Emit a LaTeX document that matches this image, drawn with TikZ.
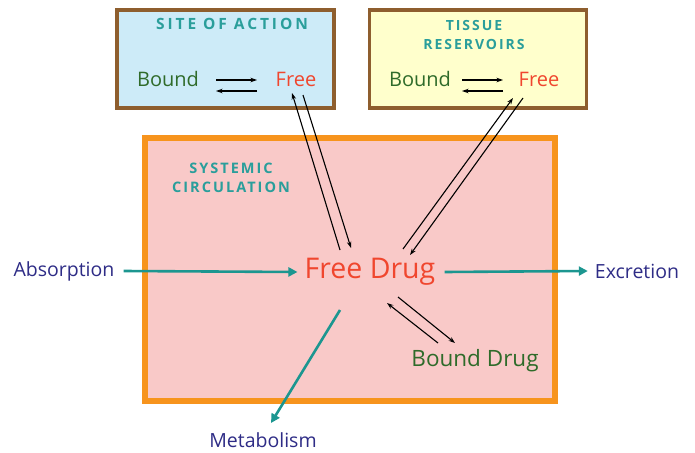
\documentclass[tikz,border=0pt]{standalone}
\usepackage{fontspec}
\setmainfont{Open Sans}
\usetikzlibrary{arrows.meta}
\definecolor{headteal}{HTML}{2A9E9B}
\definecolor{flowteal}{HTML}{1C9690}
\definecolor{boundgreen}{HTML}{2F6B2A}
\definecolor{freered}{HTML}{F0462E}
\definecolor{navy}{HTML}{2E2C86}
\definecolor{frame}{HTML}{8E5E2E}
\definecolor{orangeframe}{HTML}{F7941D}
\definecolor{skyfill}{HTML}{CDEBF8}
\definecolor{creamfill}{HTML}{FFFFCC}
\definecolor{pinkfill}{HTML}{F9C9C8}
\newfontfamily\headfont[LetterSpace=14]{Open Sans}
\newfontfamily\wideheadfont[LetterSpace=19]{Open Sans}
\tikzset{
  panel/.style={draw=frame, line width=3.5pt, minimum width=217pt, minimum height=98pt, inner sep=0pt},
  heading/.style={text=headteal, font=\headfont\bfseries\fontsize{15}{19}\selectfont, align=center, inner sep=0pt},
  word/.style={font=\fontsize{20}{22}\selectfont, inner sep=0pt},
  label/.style={text=navy, font=\fontsize{19.5}{22}\selectfont, inner sep=0pt},
  flow/.style={draw=flowteal, line width=2.6pt, -{Triangle[length=9pt,width=9pt]}},
  thin/.style={draw=black, line width=1.1pt, -{Stealth[length=6.5pt,width=4.5pt]}}
}
\begin{document}
\begin{tikzpicture}[x=1pt,y=-1pt]
\useasboundingbox (0,0) rectangle (695,452);

% compartments
\node[panel, fill=skyfill] (site) at (225.5,59) {};
\node[panel, fill=creamfill] (tissue) at (478,59) {};
\node[draw=orangeframe, fill=pinkfill, line width=6pt, minimum width=410pt, minimum height=263pt, inner sep=0pt] (blood) at (350,269.5) {};

% site of action
\node[heading, font=\wideheadfont\bfseries\fontsize{15.5}{19}\selectfont] (siteh) at (232,24) {SITE OF ACTION};
\node[word, text=boundgreen] (sbound) at (168,79) {Bound};
\node[word, text=freered] (sfree) at (296,79) {Free};
\coordinate (sa) at (216,80);
\coordinate (sb) at (257,80);
\coordinate (sc) at (257,91);
\coordinate (sd) at (216,91);
\draw[thin] (sa) -- (sb);
\draw[thin] (sc) -- (sd);

% tissue reservoirs
\node[heading, font=\headfont\bfseries\fontsize{14}{19}\selectfont] (tissueh) at (474,35) {TISSUE\\RESERVOIRS};
\node[word, text=boundgreen] (tbound) at (420,79) {Bound};
\node[word, text=freered] (tfree) at (539,79) {Free};
\coordinate (ta) at (462,80);
\coordinate (tb) at (503,80);
\coordinate (tc) at (503,91);
\coordinate (td) at (462,91);
\draw[thin] (ta) -- (tb);
\draw[thin] (tc) -- (td);

% systemic circulation
\node[heading, font=\headfont\bfseries\fontsize{14.5}{19}\selectfont] (bloodh) at (231,178) {SYSTEMIC\\CIRCULATION};
\node[text=freered, font=\fontsize{28.5}{30}\selectfont, inner sep=0pt] (fdrug) at (370,272) {Free Drug};
\node[word, text=boundgreen, font=\fontsize{22.5}{24}\selectfont] (bdrug) at (475,361) {Bound Drug};

% exchange with the site of action
\coordinate (s1) at (340,250);
\coordinate (s2) at (292,93);
\coordinate (s3) at (303,95);
\coordinate (s4) at (351,248);
\draw[thin] (s1) -- (s2);
\draw[thin] (s3) -- (s4);

% exchange with tissue reservoirs
\coordinate (t1) at (403,249);
\coordinate (t2) at (513,98);
\coordinate (t3) at (523,98);
\coordinate (t4) at (410,255);
\draw[thin] (t1) -- (t2);
\draw[thin] (t3) -- (t4);

% binding to plasma proteins
\coordinate (b1) at (398,297);
\coordinate (b2) at (455,343);
\coordinate (b3) at (438,343);
\coordinate (b4) at (387,303);
\draw[thin] (b1) -- (b2);
\draw[thin] (b3) -- (b4);

% input and elimination
\node[label] (absorb) at (64,271) {Absorption};
\node[label] (excr) at (637,271) {Excretion};
\node[label] (metab) at (263,440) {Metabolism};
\coordinate (m1) at (340,310);
\coordinate (m2) at (271,423);
\draw[flow] ([xshift=9pt]absorb.east) -- ([xshift=-7pt]fdrug.west);
\draw[flow] ([xshift=9pt]fdrug.east) -- ([xshift=-7pt]excr.west);
\draw[flow] (m1) -- (m2);
\end{tikzpicture}
\end{document}
